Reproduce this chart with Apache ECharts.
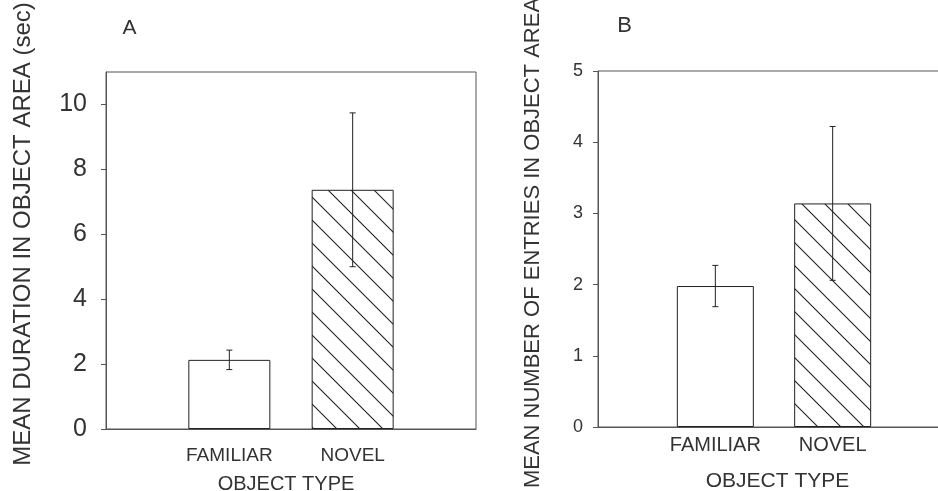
<!DOCTYPE html>
<html>
<head>
<meta charset="utf-8">
<script src="https://cdn.jsdelivr.net/npm/echarts@6/dist/echarts.min.js"></script>
<style>
html,body{margin:0;padding:0;background:#fff;}
#chart{width:938px;height:491px;}
</style>
</head>
<body>
<div id="chart"></div>
<script>
// ---- data ----
const groups = ['FAMILIAR', 'NOVEL'];
const durationMean = [2.13, 7.37];
const durationErr = [0.30, 2.37];
const entriesMean = [1.98, 3.14];
const entriesErr = [0.29, 1.08];
const durationTicks = [0, 2, 4, 6, 8, 10];
const entriesTicks = [0, 1, 2, 3, 4, 5];
const panelLabels = ['A', 'B'];
const yTitles = ['MEAN DURATION IN OBJECT AREA (sec)', 'MEAN NUMBER OF ENTRIES IN OBJECT AREA'];
const xTitle = 'OBJECT TYPE';

// ---- styles ----
const FONT = 'Liberation Sans, Arial, sans-serif';
const TXT = '#333';
const AX = '#555';
const INK = '#222';

function hatch() {
  const s = 23;
  const c = document.createElement('canvas');
  c.width = s; c.height = s;
  const g = c.getContext('2d');
  g.fillStyle = '#fff';
  g.fillRect(0, 0, s, s);
  g.strokeStyle = INK;
  g.lineWidth = 1.1;
  g.beginPath();
  g.moveTo(-2, -2); g.lineTo(s + 2, s + 2);
  g.moveTo(-2 - s, -2); g.lineTo(2, s + 2);
  g.moveTo(s - 2, -2); g.lineTo(2 * s + 2, s + 2);
  g.stroke();
  return c;
}
const hatchPattern = { image: hatch(), repeat: 'repeat' };

const cats = [''].concat(groups, ['']);
function barData(means) {
  return ['-'].concat(means.map((v, i) => ({
    value: v,
    itemStyle: i === 1 ? { color: hatchPattern } : { color: '#fff' }
  })), ['-']);
}
function errData(means, errs) {
  return means.map((v, i) => [i + 1, v - errs[i], v + errs[i]]);
}
function renderErr(params, api) {
  const x = api.value(0);
  const lo = api.coord([x, api.value(1)]);
  const hi = api.coord([x, api.value(2)]);
  const cap = 3;
  const st = { stroke: INK, lineWidth: 1 };
  return {
    type: 'group',
    children: [
      { type: 'line', shape: { x1: lo[0], y1: lo[1], x2: hi[0], y2: hi[1] }, style: st },
      { type: 'line', shape: { x1: hi[0] - cap, y1: hi[1], x2: hi[0] + cap, y2: hi[1] }, style: st },
      { type: 'line', shape: { x1: lo[0] - cap, y1: lo[1], x2: lo[0] + cap, y2: lo[1] }, style: st }
    ]
  };
}

const grids = [
  { left: 106, top: 72, width: 370, height: 357, show: true, borderColor: AX, borderWidth: 1, backgroundColor: 'transparent', outerBoundsMode: 'none', containLabel: false },
  { left: 598, top: 71, width: 352, height: 356, show: true, borderColor: AX, borderWidth: 1, backgroundColor: 'transparent', outerBoundsMode: 'none', containLabel: false }
];

function xAxis(gi, fontSize, margin) {
  return {
    type: 'category', gridIndex: gi, data: cats, boundaryGap: false,
    axisLine: { show: true, lineStyle: { color: AX, width: 1 } },
    axisTick: { show: false },
    splitLine: { show: false },
    axisLabel: { color: TXT, fontFamily: FONT, fontSize: fontSize, margin: margin, interval: 0 }
  };
}
function yAxis(gi, max, interval, ticks, fontSize, margin) {
  return {
    type: 'value', gridIndex: gi, min: 0, max: max, interval: interval,
    axisLine: { show: true, lineStyle: { color: AX, width: 1 } },
    axisTick: { show: true, length: 5, lineStyle: { color: AX }, customValues: ticks },
    splitLine: { show: false },
    axisLabel: { color: TXT, fontFamily: FONT, fontSize: fontSize, margin: margin, customValues: ticks }
  };
}

const option = {
  animation: false,
  backgroundColor: '#fff',
  grid: grids,
  xAxis: [xAxis(0, 19, 17), xAxis(1, 20, 8)],
  yAxis: [yAxis(0, 11, 2, durationTicks, 25, 19), yAxis(1, 5, 1, entriesTicks, 18, 15)],
  series: [
    { type: 'bar', xAxisIndex: 0, yAxisIndex: 0, data: barData(durationMean), barWidth: 82,
      itemStyle: { borderColor: INK, borderWidth: 1 }, z: 2 },
    { type: 'custom', xAxisIndex: 0, yAxisIndex: 0, data: errData(durationMean, durationErr),
      renderItem: renderErr, encode: { x: 0, y: [1, 2] }, z: 5 },
    { type: 'bar', xAxisIndex: 1, yAxisIndex: 1, data: barData(entriesMean), barWidth: 77,
      itemStyle: { borderColor: INK, borderWidth: 1 }, z: 2 },
    { type: 'custom', xAxisIndex: 1, yAxisIndex: 1, data: errData(entriesMean, entriesErr),
      renderItem: renderErr, encode: { x: 0, y: [1, 2] }, z: 5 }
  ],
  graphic: [
    { type: 'text', x: 129.5, y: 28.5, style: { text: panelLabels[0], fontSize: 21, fontFamily: FONT, fill: TXT, align: 'center', verticalAlign: 'middle', textAlign: 'center', textVerticalAlign: 'middle' } },
    { type: 'text', x: 624.5, y: 25.5, style: { text: panelLabels[1], fontSize: 22, fontFamily: FONT, fill: TXT, align: 'center', verticalAlign: 'middle', textAlign: 'center', textVerticalAlign: 'middle' } },
    { type: 'text', x: 23, y: 234, rotation: Math.PI / 2, style: { text: yTitles[0], fontSize: 24, fontFamily: FONT, fill: TXT, align: 'center', verticalAlign: 'middle', textAlign: 'center', textVerticalAlign: 'middle' } },
    { type: 'text', x: 533, y: 243, rotation: Math.PI / 2, style: { text: yTitles[1], fontSize: 22, fontFamily: FONT, fill: TXT, align: 'center', verticalAlign: 'middle', textAlign: 'center', textVerticalAlign: 'middle' } },
    { type: 'text', x: 286, y: 484, style: { text: xTitle, fontSize: 20, fontFamily: FONT, fill: TXT, align: 'center', verticalAlign: 'middle', textAlign: 'center', textVerticalAlign: 'middle' } },
    { type: 'text', x: 777.5, y: 481, style: { text: xTitle, fontSize: 21, fontFamily: FONT, fill: TXT, align: 'center', verticalAlign: 'middle', textAlign: 'center', textVerticalAlign: 'middle' } }
  ]
};

const chart = echarts.init(document.getElementById('chart'), null, { renderer: 'canvas' });
chart.setOption(option);
</script>
</body>
</html>
